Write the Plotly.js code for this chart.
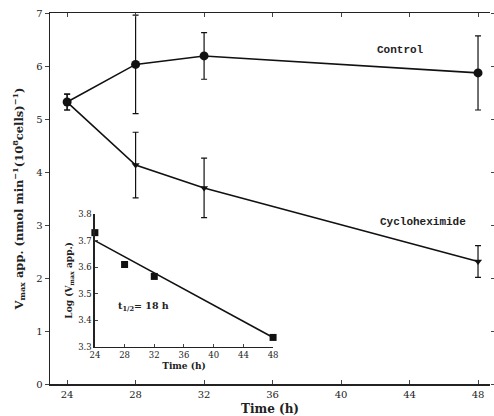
<!DOCTYPE html>
<html><head><meta charset="utf-8">
<script src="https://cdn.plot.ly/plotly-3.0.1.min.js"></script>
<style>html,body{margin:0;padding:0;background:#fff}#chart{width:494px;height:416px}</style>
</head><body><div id="chart"></div>
<script>
// Main chart data
const timeH = [24, 28, 32, 48];
const controlV = [5.32, 6.03, 6.19, 5.87];
const controlErr = [0.15, 0.93, 0.44, 0.70];
const cycloV = [5.32, 4.13, 3.70, 2.31];
const cycloErr = [0.15, 0.62, 0.56, 0.30];
// Inset data (log Vmax app.)
const insetTime = [24, 28, 32, 48];
const insetLog = [3.73, 3.61, 3.565, 3.335];
const fitTime = [24, 48];
const fitLog = [3.70, 3.335];
const mainXTicks = [24, 28, 32, 36, 40, 44, 48];
const mainYTicks = [0, 1, 2, 3, 4, 5, 6, 7];
const insetXTicks = [24, 28, 32, 36, 40, 44, 48];
const insetYTicks = [3.3, 3.4, 3.5, 3.6, 3.7, 3.8];

const serif = 'DejaVu Serif, serif';
const mono = 'Liberation Mono, monospace';

const traces = [
  {x: timeH, y: controlV, type: 'scatter', mode: 'lines+markers', xaxis: 'x', yaxis: 'y',
   line: {color: '#111', width: 1.6}, marker: {symbol: 'circle', size: 9, color: '#111'},
   error_y: {type: 'data', array: controlErr, visible: true, color: '#111', thickness: 1.2, width: 3},
   cliponaxis: false, showlegend: false},
  {x: timeH, y: cycloV, type: 'scatter', mode: 'lines+markers', xaxis: 'x', yaxis: 'y',
   line: {color: '#111', width: 1.6}, marker: {symbol: 'triangle-down', size: 7, color: '#111'},
   error_y: {type: 'data', array: cycloErr, visible: true, color: '#111', thickness: 1.2, width: 3},
   cliponaxis: false, showlegend: false},
  {x: [], y: [], xaxis: 'x', yaxis: 'y3', type: 'scatter', showlegend: false},
  {x: fitTime, y: fitLog, type: 'scatter', mode: 'lines', xaxis: 'x2', yaxis: 'y2',
   line: {color: '#111', width: 1.6}, cliponaxis: false, showlegend: false},
  {x: insetTime, y: insetLog, type: 'scatter', mode: 'markers', xaxis: 'x2', yaxis: 'y2',
   marker: {symbol: 'square', size: 7, color: '#111'}, cliponaxis: false, showlegend: false}
];

const layout = {
  width: 494, height: 416,
  margin: {l: 50, r: 4, t: 13, b: 32},
  paper_bgcolor: '#fff', plot_bgcolor: 'rgba(0,0,0,0)',
  font: {family: serif, color: '#222', size: 10},
  showlegend: false,
  xaxis: {domain: [0, 1], range: [23.0, 48.7], tickvals: mainXTicks, ticks: 'inside', ticklen: 4,
    showline: true, linecolor: '#222', linewidth: 1.5, mirror: 'ticks', showgrid: false, zeroline: false,
    tickfont: {family: serif, size: 10}, anchor: 'y',
    title: {text: '<b>Time (h)</b>', font: {family: serif, size: 12}, standoff: 6}},
  yaxis: {domain: [0, 1], range: [0, 7], tickvals: mainYTicks, ticks: 'outside', ticklen: 4,
    showline: true, linecolor: '#222', linewidth: 1.5, showgrid: false, zeroline: false,
    tickfont: {family: serif, size: 10}, anchor: 'x',
    title: {text: '<b>V<sub>max</sub> app. (nmol min<sup>−1</sup>(10<sup>8</sup>cells)<sup>−1</sup>)</b>',
      font: {family: serif, size: 11.5}, standoff: 10}},
  yaxis3: {overlaying: 'y', side: 'right', range: [0, 7], tickvals: mainYTicks, ticks: 'outside', ticklen: 4,
    showline: false, showticklabels: false, showgrid: false, zeroline: false, anchor: 'x'},
  xaxis2: {domain: [0.102, 0.507], range: [24, 48], tickvals: insetXTicks, ticks: 'inside', ticklen: 3,
    showline: true, linecolor: '#222', linewidth: 1.5, showgrid: false, zeroline: false, anchor: 'y2',
    tickfont: {family: serif, size: 8.5},
    title: {text: '<b>Time (h)</b>', font: {family: serif, size: 9}, standoff: 3}},
  yaxis2: {domain: [0.1005, 0.458], range: [3.3, 3.8], tickvals: insetYTicks, ticks: 'inside', ticklen: 3,
    tickformat: '.1f',
    showline: true, linecolor: '#222', linewidth: 1.5, showgrid: false, zeroline: false, anchor: 'x2',
    tickfont: {family: serif, size: 8.5},
    title: {text: '<b>Log (V<sub>max</sub> app.)</b>', font: {family: serif, size: 9}, standoff: 4}},
  annotations: [
    {text: '<b>Control</b>', x: 43.45, y: 6.3, xref: 'x', yref: 'y', showarrow: false,
     font: {family: mono, size: 11, color: '#222'}},
    {text: '<b>Cycloheximide</b>', x: 44.8, y: 3.06, xref: 'x', yref: 'y', showarrow: false,
     font: {family: mono, size: 11, color: '#222'}},
    {text: '<b>t<sub>1/2</sub>= 18 h</b>', x: 30.5, y: 3.45, xref: 'x2', yref: 'y2', showarrow: false,
     font: {family: serif, size: 9.5, color: '#222'}}
  ]
};

Plotly.newPlot('chart', traces, layout, {displayModeBar: false, staticPlot: true});
</script></body></html>
